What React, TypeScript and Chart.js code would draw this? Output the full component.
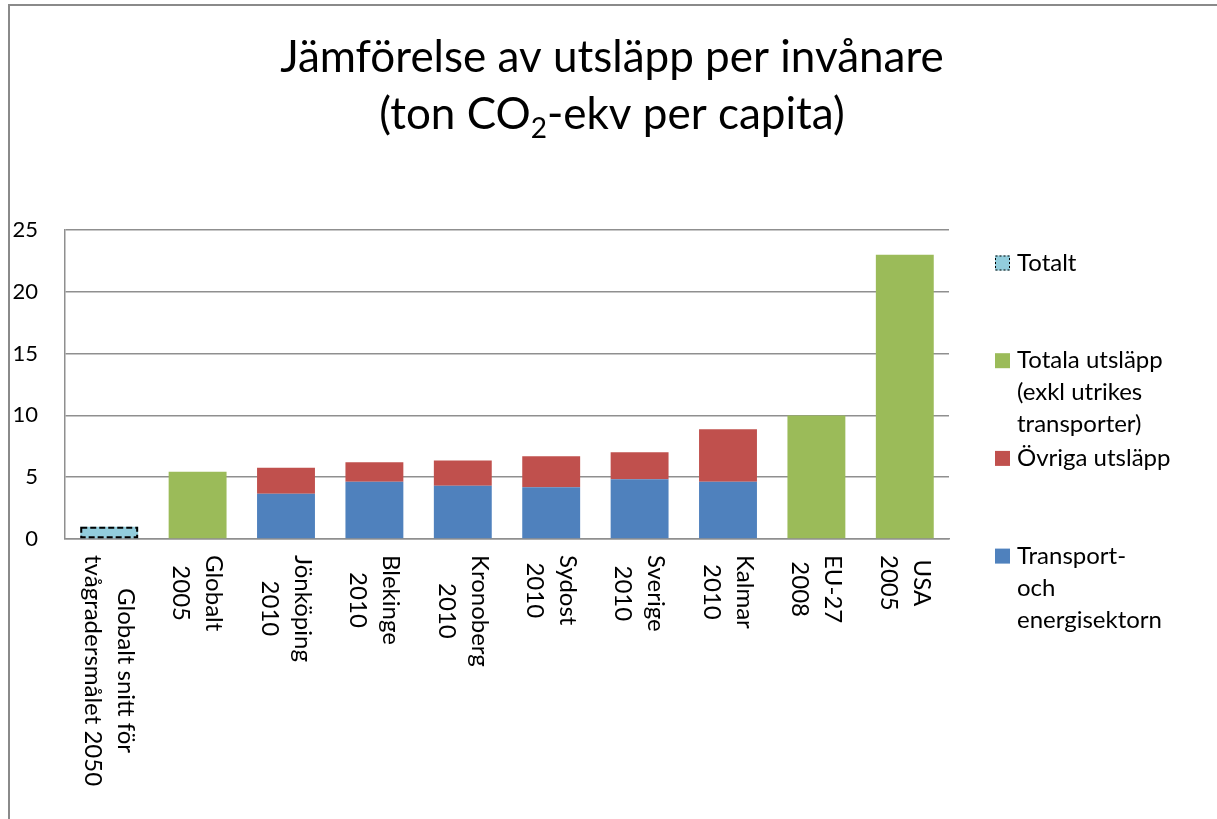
import React, { useEffect, useRef } from "react";
import { Chart, registerables } from "chart.js";

Chart.register(...registerables);

// ---------- data ----------
const titleLine1 = "Jämförelse av utsläpp per invånare";
const titleLine2 = ["(ton CO", "2", "-ekv per capita)"]; // middle part is subscript

const categories: string[][] = [
  ["Globalt snitt för", "tvågradersmålet 2050"],
  ["Globalt", "2005"],
  ["Jönköping", "2010"],
  ["Blekinge", "2010"],
  ["Kronoberg", "2010"],
  ["Sydost", "2010"],
  ["Sverige", "2010"],
  ["Kalmar", "2010"],
  ["EU-27", "2008"],
  ["USA", "2005"],
];

const transportValues = [null, null, 3.66, 4.63, 4.31, 4.18, 4.83, 4.63, null, null];
const ovrigaValues = [null, null, 2.11, 1.57, 2.05, 2.51, 2.18, 4.24, null, null];
const totalaValues = [null, 5.45, null, null, null, null, null, null, 10.0, 23.0];
const totaltValues = [1.0, null, null, null, null, null, null, null, null, null];

const yTicks = [0, 5, 10, 15, 20, 25];

const transportLabel = ["Transport-", "och", "energisektorn"];
const ovrigaLabel = ["Övriga utsläpp"];
const totalaLabel = ["Totala utsläpp", "(exkl utrikes", "transporter)"];
const totaltLabel = ["Totalt"];

// ---------- styles ----------
const FONT = "Lato, 'Noto Sans', sans-serif";
const BLUE = "#4f81bd";
const RED = "#c0504d";
const GREEN = "#9bbb59";
const LIGHTBLUE = "#92cddc";
const GRID = "#8f8f8f";

const decorPlugin = {
  id: "decor",
  beforeDraw(chart: any) {
    const ctx = chart.ctx;
    ctx.save();
    ctx.fillStyle = "#ffffff";
    ctx.fillRect(0, 0, chart.width, chart.height);
    ctx.fillStyle = "#8a8a8a";
    ctx.fillRect(8, 4, 2, chart.height);
    ctx.fillRect(8, 4, chart.width, 2);
    ctx.restore();
  },
  afterDatasetsDraw(chart: any) {
    // dashed outline for the "Totalt" bar
    const ctx = chart.ctx;
    const idx = chart.data.datasets.findIndex((d: any) => d.dashedOutline);
    if (idx < 0) return;
    const meta = chart.getDatasetMeta(idx);
    ctx.save();
    ctx.strokeStyle = "#000";
    ctx.lineWidth = 2;
    ctx.setLineDash([6, 3]);
    meta.data.forEach((el: any, i: number) => {
      const v = chart.data.datasets[idx].data[i];
      if (v == null) return;
      const { x, y, base, width } = el.getProps(["x", "y", "base", "width"], true);
      ctx.strokeRect(x - width / 2 + 1, y + 1, width - 2, base - y - 2);
    });
    ctx.restore();
  },
  afterDraw(chart: any) {
    const ctx = chart.ctx;
    ctx.save();
    // ---- title ----
    const cx = 612;
    const mainFont = `44px ${FONT}`;
    const subFont = `28px ${FONT}`;
    ctx.fillStyle = "#000";
    ctx.textBaseline = "alphabetic";
    ctx.font = mainFont;
    ctx.textAlign = "center";
    ctx.fillText(titleLine1, cx, 72);
    const w0 = ctx.measureText(titleLine2[0]).width;
    const w2 = ctx.measureText(titleLine2[2]).width;
    ctx.font = subFont;
    const w1 = ctx.measureText(titleLine2[1]).width;
    let sx = cx - (w0 + w1 + w2) / 2;
    ctx.textAlign = "left";
    ctx.font = mainFont;
    ctx.fillText(titleLine2[0], sx, 129);
    sx += w0;
    ctx.font = subFont;
    ctx.fillText(titleLine2[1], sx, 138);
    sx += w1;
    ctx.font = mainFont;
    ctx.fillText(titleLine2[2], sx, 129);

    // ---- x labels, rotated clockwise ----
    const xScale = chart.scales.x;
    ctx.font = `24px ${FONT}`;
    ctx.fillStyle = "#000";
    const lineH = 33;
    const top = xScale.top + 16;
    categories.forEach((lines, i) => {
      const px = xScale.getPixelForValue(i);
      const maxW = Math.max(...lines.map((l) => ctx.measureText(l).width));
      ctx.save();
      ctx.translate(px + ((lines.length - 1) * lineH) / 2, top + maxW / 2);
      ctx.rotate(Math.PI / 2);
      ctx.textAlign = "center";
      ctx.textBaseline = "middle";
      lines.forEach((l, k) => ctx.fillText(l, 0, k * lineH));
      ctx.restore();
    });

    // ---- legend (reverse dataset order, like Excel) ----
    const items = [...chart.data.datasets].reverse();
    ctx.font = `24px ${FONT}`;
    ctx.textAlign = "left";
    ctx.textBaseline = "middle";
    items.forEach((ds: any, i: number) => {
      const y0 = 263 + i * 97.7;
      ctx.fillStyle = ds.backgroundColor;
      ctx.fillRect(995, y0 - 7.5, 15, 15);
      if (ds.dashedOutline) {
        ctx.save();
        ctx.strokeStyle = "#000";
        ctx.lineWidth = 1;
        ctx.setLineDash([2, 2]);
        ctx.strokeRect(995.5, y0 - 7, 14, 14);
        ctx.restore();
      }
      ctx.fillStyle = "#000";
      ds.legendLines.forEach((l: string, k: number) => ctx.fillText(l, 1017, y0 + k * 32));
    });
    ctx.restore();
  },
};

export default function App() {
  const canvasRef = useRef<HTMLCanvasElement | null>(null);

  useEffect(() => {
    const canvas = canvasRef.current;
    if (!canvas) return;
    const chart = new Chart(canvas, {
      type: "bar",
      data: {
        labels: categories,
        datasets: [
          { label: transportLabel.join(" "), legendLines: transportLabel, data: transportValues, backgroundColor: BLUE, stack: "s" } as any,
          { label: ovrigaLabel.join(" "), legendLines: ovrigaLabel, data: ovrigaValues, backgroundColor: RED, stack: "s" } as any,
          { label: totalaLabel.join(" "), legendLines: totalaLabel, data: totalaValues, backgroundColor: GREEN, stack: "s" } as any,
          { label: totaltLabel.join(" "), legendLines: totaltLabel, data: totaltValues, backgroundColor: LIGHTBLUE, stack: "s", dashedOutline: true } as any,
        ],
      },
      options: {
        responsive: false,
        animation: false,
        devicePixelRatio: 1,
        layout: { padding: { left: 0, right: 1217 - 949, top: 230, bottom: 0 } },
        datasets: { bar: { barPercentage: 0.655, categoryPercentage: 1 } },
        plugins: {
          legend: { display: false },
          title: { display: false },
          tooltip: { enabled: false },
        },
        scales: {
          x: {
            stacked: true,
            grid: { display: false },
            border: { display: true, color: GRID, width: 1.5 },
            ticks: { display: false },
            afterFit: (s: any) => {
              s.height = 819 - 539;
            },
          },
          y: {
            stacked: true,
            min: 0,
            max: 25,
            afterBuildTicks: (s: any) => {
              s.ticks = yTicks.map((v) => ({ value: v }));
            },
            afterFit: (s: any) => {
              s.width = 65;
            },
            grid: { color: GRID, lineWidth: 1.5, drawTicks: false },
            border: { display: true, color: GRID, width: 1.5 },
            ticks: { font: { family: FONT, size: 22 }, color: "#000", padding: 27 },
          },
        },
      },
      plugins: [decorPlugin],
    } as any);
    return () => chart.destroy();
  }, []);

  return (
    <div style={{ position: "fixed", left: 0, top: 0, width: 1217, height: 819, background: "#fff" }}>
      <canvas ref={canvasRef} width={1217} height={819} style={{ display: "block", width: 1217, height: 819 }} />
    </div>
  );
}
